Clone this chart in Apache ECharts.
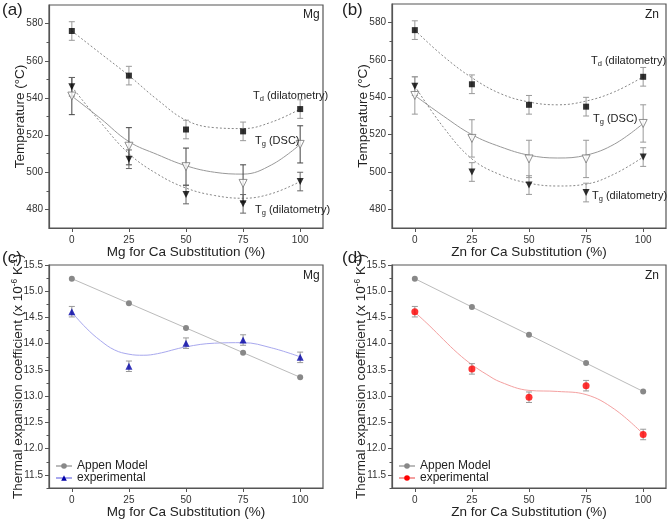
<!DOCTYPE html>
<html><head><meta charset="utf-8">
<script src="https://cdn.jsdelivr.net/npm/echarts@6/dist/echarts.min.js"></script>
<style>html,body{margin:0;padding:0;background:#fff}#c{width:669px;height:522px}</style>
</head><body><div id="c"></div>
<script>
// ---------- data ----------
const X = [0, 25, 50, 75, 100];
const fitX = [0, 12.5, 25, 37.5, 50, 62.5, 75, 87.5, 100];
const fitX2 = [0, 6.25, 12.5, 18.75, 25, 31.25, 37.5, 50, 62.5, 75, 87.5, 100];
const xTicks = [0, 25, 50, 75, 100];
const tMajor = [480, 500, 520, 540, 560, 580];
const tMinor = [490, 510, 530, 550, 570];
const cMajor = [11.5, 12.0, 12.5, 13.0, 13.5, 14.0, 14.5, 15.0, 15.5];
const cMinor = [11.25, 11.75, 12.25, 12.75, 13.25, 13.75, 14.25, 14.75, 15.25];

// panel (a) Mg
const aTd = [576, 552, 523, 522, 534];
const aTdErr = [5, 5, 5, 5, 5];
const aDSC = [541, 514, 503, 494, 515];
const aDSCErr = [10, 10, 10, 10, 10];
const aDil = [546, 507, 488, 483, 495];
const aDilErr = [5, 5, 5, 5, 5];
const aTdFit = [576, 564, 552, 539, 528, 524, 523.5, 527, 534];
const aDSCFit = [541, 529, 516.5, 509.5, 503.5, 500, 499, 504, 515];
const aDilFit = [546, 527, 510, 499, 491.5, 487.5, 486, 488.5, 495];

// panel (b) Zn
const bTd = [576, 547, 536, 535, 551];
const bTdErr = [5, 5, 5, 5, 5];
const bDSC = [541, 518, 507, 507, 526];
const bDSCErr = [10, 10, 10, 10, 10];
const bDil = [546, 500, 493, 489, 508];
const bDilErr = [5, 5, 5, 5, 5];
const bTdFit = [576, 562, 550.5, 542, 537.5, 536, 538, 543, 551];
const bDSCFit = [541, 530, 520, 513.5, 509, 507.5, 509, 515, 526];
const bDilFit = [546, 524, 507, 498.5, 494, 492.5, 493.5, 499, 508];

// panel (c) Mg CTE
const cAppen = [15.24, 14.77, 14.30, 13.83, 13.36];
const cExp = [14.61, 13.57, 14.01, 14.07, 13.74];
const cExpErr = [0.1, 0.1, 0.1, 0.1, 0.1];
const cExpFit = [14.6, 14.3, 14.06, 13.88, 13.8, 13.78, 13.81, 13.94, 14.01, 14.02, 13.92, 13.75];

// panel (d) Zn CTE
const dAppen = [15.24, 14.70, 14.17, 13.63, 13.09];
const dExp = [14.61, 13.52, 12.98, 13.20, 12.27];
const dExpErr = [0.1, 0.1, 0.1, 0.1, 0.1];
const dExpFit = [14.6, 14.35, 14.08, 13.82, 13.6, 13.42, 13.27, 13.11, 13.09, 13.03, 12.75, 12.28];

// ---------- helpers ----------
const FONT = 'Liberation Sans, Arial, sans-serif';
const AX = '#555';
const pairs = (xs, ys) => xs.map((x, i) => [x, ys[i]]);
const errs = (xs, ys, es) => xs.map((x, i) => [x, ys[i] - es[i], ys[i] + es[i]]);

function errRender(color) {
  return function (params, api) {
    const x = api.value(0), lo = api.value(1), hi = api.value(2);
    const p1 = api.coord([x, lo]), p2 = api.coord([x, hi]);
    const w = 3, st = { stroke: color, lineWidth: 1 };
    return { type: 'group', children: [
      { type: 'line', shape: { x1: p1[0], y1: p1[1], x2: p2[0], y2: p2[1] }, style: st },
      { type: 'line', shape: { x1: p1[0] - w, y1: p1[1], x2: p1[0] + w, y2: p1[1] }, style: st },
      { type: 'line', shape: { x1: p2[0] - w, y1: p2[1], x2: p2[0] + w, y2: p2[1] }, style: st }
    ] };
  };
}
function errSeries(idx, data, color) {
  return { type: 'custom', xAxisIndex: idx, yAxisIndex: idx * 2, renderItem: errRender(color),
    data: data, encode: { x: 0, y: [1, 2] }, z: 2, silent: true };
}
function fitSeries(idx, xs, ys, color, type) {
  return { type: 'line', xAxisIndex: idx, yAxisIndex: idx * 2, data: pairs(xs, ys), smooth: 0.4,
    showSymbol: false, symbol: 'none', lineStyle: { color: color, width: 1, type: type }, z: 1, silent: true };
}
function ptSeries(idx, ys, symbol, size, color, border, rot) {
  return { type: 'scatter', xAxisIndex: idx, yAxisIndex: idx * 2, data: pairs(X, ys), symbol: symbol,
    symbolSize: size, symbolRotate: rot || 0,
    itemStyle: { color: color, borderColor: border, borderWidth: border ? 1 : 0 }, z: 5 };
}

const grids = [
  { left: 49, top: 5, width: 274, height: 223 },
  { left: 392, top: 4, width: 274, height: 224 },
  { left: 49, top: 265, width: 274, height: 223 },
  { left: 392, top: 265, width: 274, height: 223 }
];
const xNames = ['Mg for Ca Substitution (%)', 'Zn for Ca Substitution (%)', 'Mg for Ca Substitution (%)', 'Zn for Ca Substitution (%)'];

const xAxes = grids.map((g, i) => ({
  type: 'value', gridIndex: i, min: -10, max: 110,
  name: xNames[i], nameLocation: 'middle', nameGap: 17, nameMoveOverlap: false,
  nameTextStyle: { fontFamily: FONT, fontSize: 13.5, color: '#222' },
  axisLine: { onZero: false, lineStyle: { color: AX, width: 1.2 } },
  axisTick: { customValues: xTicks, length: 4, lineStyle: { color: AX } },
  axisLabel: { customValues: xTicks, margin: 7, fontFamily: FONT, fontSize: 10, color: '#333' },
  splitLine: { show: false }
}));

const rich = {
  n: { fontFamily: FONT, fontSize: 13.5, color: '#222' },
  sup: { fontFamily: FONT, fontSize: 8.5, color: '#222', verticalAlign: 'top', padding: [0, 0, 7, 0] }
};
const yAxes = [];
grids.forEach((g, i) => {
  const temp = i < 2;
  yAxes.push({
    type: 'value', gridIndex: i, min: temp ? 470 : 11.25, max: temp ? 590 : 15.5,
    name: temp ? 'Temperature (°C)' : '{n|Thermal expansion coefficient (x 10}{sup|-6}{n| K}{sup|-1}{n|)}',
    nameLocation: 'middle', nameGap: temp ? 22 : 23, nameRotate: 90, nameMoveOverlap: false,
    nameTextStyle: { fontFamily: FONT, fontSize: 13.5, color: '#222', rich: rich },
    axisLine: { onZero: false, lineStyle: { color: AX, width: 1.2 } },
    axisTick: { customValues: temp ? tMajor : cMajor, length: 4, lineStyle: { color: AX } },
    axisLabel: { customValues: temp ? tMajor : cMajor, margin: 6, fontFamily: FONT, fontSize: 10, color: '#333',
      formatter: v => temp ? String(v) : v.toFixed(1) },
    splitLine: { show: false }
  });
  yAxes.push({
    type: 'value', gridIndex: i, min: temp ? 470 : 11.25, max: temp ? 590 : 15.5, position: 'left',
    axisLine: { show: false, onZero: false },
    axisTick: { customValues: temp ? tMinor : cMinor, length: 2.5, lineStyle: { color: AX } },
    axisLabel: { show: false }, splitLine: { show: false }
  });
});

const tRich = {
  n: { fontFamily: FONT, fontSize: 11, color: '#222' },
  sub: { fontFamily: FONT, fontSize: 7.5, color: '#222', padding: [7, 0, 0, 0] }
};
function note(text, left, top, size) {
  return { text: text, left: left, top: top, padding: 0,
    textStyle: { fontFamily: FONT, fontSize: size || 12, fontWeight: 'normal', color: '#222', rich: tRich } };
}

const series = [];
// (a)
series.push(fitSeries(0, fitX, aTdFit, '#888', [2, 2]));
series.push(fitSeries(0, fitX, aDSCFit, '#999', 'solid'));
series.push(fitSeries(0, fitX, aDilFit, '#888', [2, 2]));
series.push(errSeries(0, errs(X, aTd, aTdErr), '#999'));
series.push(errSeries(0, errs(X, aDSC, aDSCErr), '#444'));
series.push(errSeries(0, errs(X, aDil, aDilErr), '#666'));
series.push(ptSeries(0, aTd, 'rect', 6, '#000'));
series.push(ptSeries(0, aDSC, 'triangle', 8, '#fff', '#777', 180));
series.push(ptSeries(0, aDil, 'triangle', 7, '#000', null, 180));
// (b)
series.push(fitSeries(1, fitX, bTdFit, '#888', [2, 2]));
series.push(fitSeries(1, fitX, bDSCFit, '#999', 'solid'));
series.push(fitSeries(1, fitX, bDilFit, '#888', [2, 2]));
series.push(errSeries(1, errs(X, bTd, bTdErr), '#999'));
series.push(errSeries(1, errs(X, bDSC, bDSCErr), '#999'));
series.push(errSeries(1, errs(X, bDil, bDilErr), '#999'));
series.push(ptSeries(1, bTd, 'rect', 6, '#000'));
series.push(ptSeries(1, bDSC, 'triangle', 8, '#fff', '#777', 180));
series.push(ptSeries(1, bDil, 'triangle', 7, '#000', null, 180));
// (c)
series.push({ type: 'line', name: 'Appen Model', xAxisIndex: 2, yAxisIndex: 4, data: pairs(X, cAppen),
  symbol: 'circle', symbolSize: 6, itemStyle: { color: '#888' }, lineStyle: { color: '#bbb', width: 1 }, z: 4 });
series.push({ type: 'line', name: 'experimental', xAxisIndex: 2, yAxisIndex: 4, data: pairs(fitX2, cExpFit),
  smooth: 0.4, showSymbol: false, symbol: 'triangle', symbolSize: 7, itemStyle: { color: '#0000a8' },
  lineStyle: { color: '#a8a8ee', width: 1 }, z: 1 });
series.push(errSeries(2, errs(X, cExp, cExpErr), '#999'));
series.push(ptSeries(2, cExp, 'triangle', 7, '#0000a8'));
// (d)
series.push({ type: 'line', name: 'Appen Model', xAxisIndex: 3, yAxisIndex: 6, data: pairs(X, dAppen),
  symbol: 'circle', symbolSize: 6, itemStyle: { color: '#888' }, lineStyle: { color: '#bbb', width: 1 }, z: 4 });
series.push({ type: 'line', name: 'experimental ', xAxisIndex: 3, yAxisIndex: 6, data: pairs(fitX2, dExpFit),
  smooth: 0.4, showSymbol: false, symbol: 'circle', symbolSize: 7, itemStyle: { color: '#ff0000' },
  lineStyle: { color: '#f4a0a0', width: 1 }, z: 1 });
series.push(errSeries(3, errs(X, dExp, dExpErr), '#999'));
series.push(ptSeries(3, dExp, 'circle', 7, '#ff0000'));

function legend(left, top, expName) {
  return { left: left, top: top, orient: 'vertical', itemGap: 0, itemWidth: 16, itemHeight: 7, padding: 0,
    textStyle: { fontFamily: FONT, fontSize: 12, color: '#222' }, selectedMode: false,
    data: ['Appen Model', expName] };
}

const chart = echarts.init(document.getElementById('c'), null, { renderer: 'canvas' });
chart.setOption({
  animation: false,
  backgroundColor: '#fff',
  grid: grids.map(g => Object.assign({ show: true, borderColor: AX, borderWidth: 1.2, backgroundColor: 'transparent' }, g)),
  xAxis: xAxes,
  yAxis: yAxes,
  legend: [legend(55, 460, 'experimental'), legend(398, 460, 'experimental ')],
  title: [
    note('(a)', 2, 2, 17), note('(b)', 342, 2, 17), note('(c)', 2, 250, 17), note('(d)', 342, 250, 17),
    note('Mg', 303, 9, 12), note('Zn', 645, 9, 12), note('Mg', 303, 270, 12), note('Zn', 645, 270, 12),
    note('{n|T}{sub|d}{n| (dilatometry)}', 253, 88),
    note('{n|T}{sub|g}{n| (DSC)}', 255, 133),
    note('{n|T}{sub|g}{n| (dilatometry)}', 255, 202),
    note('{n|T}{sub|d}{n| (dilatometry)}', 591, 53),
    note('{n|T}{sub|g}{n| (DSC)}', 593, 111),
    note('{n|T}{sub|g}{n| (dilatometry)}', 592, 188)
  ],
  series: series
});
</script>
</body></html>
